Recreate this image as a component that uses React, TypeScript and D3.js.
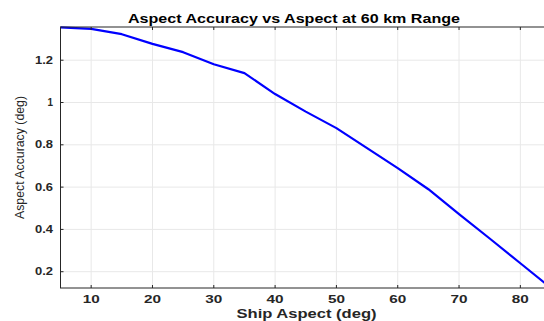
import React from "react";
import * as d3 from "d3";

const aspects = [5, 10, 15, 20, 25, 30, 35, 40, 45, 50, 55, 60, 65, 70, 75, 80, 85];
const accuracy = [1.355, 1.348, 1.323, 1.277, 1.238, 1.181, 1.139, 1.04, 0.957, 0.879, 0.784, 0.69, 0.59, 0.472, 0.357, 0.24, 0.123];
const xTicks = [10, 20, 30, 40, 50, 60, 70, 80];
const yTicks = [0.2, 0.4, 0.6, 0.8, 1, 1.2];
const titleText = "Aspect Accuracy vs Aspect at 60 km Range";
const xLabelText = "Ship Aspect (deg)";
const yLabelText = "Aspect Accuracy (deg)";

const W = 544;
const H = 321;
const left = 60.5;
const right = 551;
const top = 27;
const bottom = 288;

export default function App() {
  const x = d3.scaleLinear().domain([5, 85]).range([left, right]);
  const ext = d3.extent(accuracy) as [number, number];
  const y = d3.scaleLinear().domain([ext[0], 1.357]).range([bottom, top]);
  const line = d3
    .line<number>()
    .x((_, i) => x(aspects[i]))
    .y((d) => y(d));
  const axisColor = "#262626";
  const gridColor = "#e8e8e8";
  const font = "'Liberation Sans', Arial, sans-serif";
  return (
    <svg
      width={W}
      height={H}
      style={{ position: "absolute", left: 0, top: 0, background: "#fff" }}
    >
      <rect x={0} y={0} width={W} height={H} fill="#fff" />
      {xTicks.map((t) => (
        <line key={"gx" + t} x1={x(t)} x2={x(t)} y1={top} y2={bottom} stroke={gridColor} strokeWidth={1} />
      ))}
      {yTicks.map((t) => (
        <line key={"gy" + t} x1={left} x2={right} y1={y(t)} y2={y(t)} stroke={gridColor} strokeWidth={1} />
      ))}
      <path d={line(accuracy) || ""} fill="none" stroke="#0000ff" strokeWidth={2.2} strokeLinejoin="round" />
      <rect x={left} y={top} width={right - left} height={bottom - top} fill="none" stroke={axisColor} strokeWidth={1} />
      {xTicks.map((t) => (
        <g key={"tx" + t}>
          <line x1={x(t)} x2={x(t)} y1={bottom} y2={bottom - 3} stroke={axisColor} />
          <line x1={x(t)} x2={x(t)} y1={top} y2={top + 3} stroke={axisColor} />
          <text
            x={x(t)}
            y={303}
            textAnchor="middle"
            fontFamily={font}
            fontWeight="bold"
            fontSize={10}
            fill={axisColor}
            textLength={17}
            lengthAdjust="spacingAndGlyphs"
          >
            {t}
          </text>
        </g>
      ))}
      {yTicks.map((t) => {
        const label = String(t);
        const len = label.length === 1 ? 5.5 : 18;
        return (
          <g key={"ty" + t}>
            <line x1={left} x2={left + 3} y1={y(t)} y2={y(t)} stroke={axisColor} />
            <text
              x={53}
              y={y(t) + 3.5}
              textAnchor="end"
              fontFamily={font}
              fontWeight="bold"
              fontSize={10}
              fill={axisColor}
              textLength={len}
              lengthAdjust="spacingAndGlyphs"
            >
              {label}
            </text>
          </g>
        );
      })}
      <text
        x={294}
        y={23}
        textAnchor="middle"
        fontFamily={font}
        fontWeight="bold"
        fontSize={12}
        fill="#000"
        textLength={332}
        lengthAdjust="spacingAndGlyphs"
      >
        {titleText}
      </text>
      <text
        x={306.5}
        y={318}
        textAnchor="middle"
        fontFamily={font}
        fontWeight="bold"
        fontSize={12}
        fill={axisColor}
        textLength={140}
        lengthAdjust="spacingAndGlyphs"
      >
        {xLabelText}
      </text>
      <text
        transform={`translate(24,${(top + bottom) / 2}) rotate(-90)`}
        textAnchor="middle"
        fontFamily={font}
        fontSize={12.2}
        fill={axisColor}
        textLength={123}
        lengthAdjust="spacingAndGlyphs"
      >
        {yLabelText}
      </text>
    </svg>
  );
}
